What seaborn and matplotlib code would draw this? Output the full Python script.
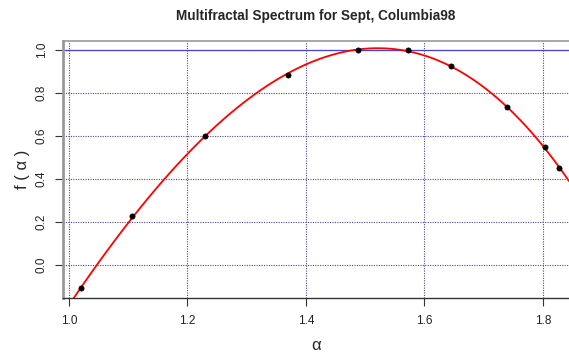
import matplotlib
matplotlib.use("Agg")
import matplotlib.pyplot as plt
import seaborn as sns
import pandas as pd

alpha = [1.021, 1.106, 1.230, 1.370, 1.488, 1.572, 1.645, 1.739, 1.803, 1.827]
f_alpha = [-0.108, 0.228, 0.600, 0.884, 1.000, 1.000, 0.926, 0.735, 0.547, 0.453]
x_ticks = [1.0, 1.2, 1.4, 1.6, 1.8]
y_ticks = [0.0, 0.2, 0.4, 0.6, 0.8, 1.0]
title = "Multifractal Spectrum for Sept, Columbia98"

df = pd.DataFrame({"alpha": alpha, "f": f_alpha})

sns.set_style("white")
plt.rcParams['font.family'] = ['Liberation Sans', 'DejaVu Sans']

fig = plt.figure(figsize=(5.69, 3.56), dpi=100)
ax = fig.add_axes([63/569, 1 - 298/356, 1 - 63/569, (298 - 41)/356])
ax.set_xlim(0.99, 1.844)
ax.set_ylim(-0.153, 1.042)

for xv in x_ticks:
    ax.axvline(xv, color="#4a4a96", linestyle=(0, (1, 1.2)), linewidth=0.8, zorder=1)
for yv in y_ticks:
    ax.axhline(yv, color="#4a4a96", linestyle=(0, (1, 1.2)), linewidth=0.8, zorder=1)
ax.axhline(1.0, color="#4444cc", linewidth=0.9, zorder=2)

sns.regplot(data=df, x="alpha", y="f", order=3, ci=None, scatter=False,
            truncate=False, color="red", line_kws={"linewidth": 1.3, "zorder": 3}, ax=ax)
sns.scatterplot(data=df, x="alpha", y="f", color="black", s=14, edgecolor="black",
                linewidth=0.5, zorder=4, ax=ax)

ax.set_xlim(0.99, 1.844)
ax.set_ylim(-0.153, 1.042)
ax.set_xticks(x_ticks)
ax.set_yticks(y_ticks)
ax.set_xticklabels([f"{v:.1f}" for v in x_ticks])
ax.set_yticklabels([f"{v:.1f}" for v in y_ticks], rotation=90, va="center")
ax.tick_params(axis="both", direction="out", length=6, width=0.8, color="#333333",
               labelsize=8.5, labelcolor="#222222", bottom=True, left=True)
ax.tick_params(axis="x", pad=6)
ax.tick_params(axis="y", pad=5)

ax.spines["right"].set_visible(False)
ax.spines["top"].set_color("#999999")
ax.spines["top"].set_linewidth(1.2)
ax.spines["left"].set_color("#999999")
ax.spines["left"].set_linewidth(2.0)
ax.spines["bottom"].set_color("#333333")
ax.spines["bottom"].set_linewidth(1.0)

ax.set_xlabel("α", fontsize=12, labelpad=8)
ax.set_ylabel("f ( α )", fontsize=12, labelpad=4)
ax.set_title(title, fontsize=9.8, fontweight="bold", pad=15)

fig.savefig("out.png", dpi=100)
